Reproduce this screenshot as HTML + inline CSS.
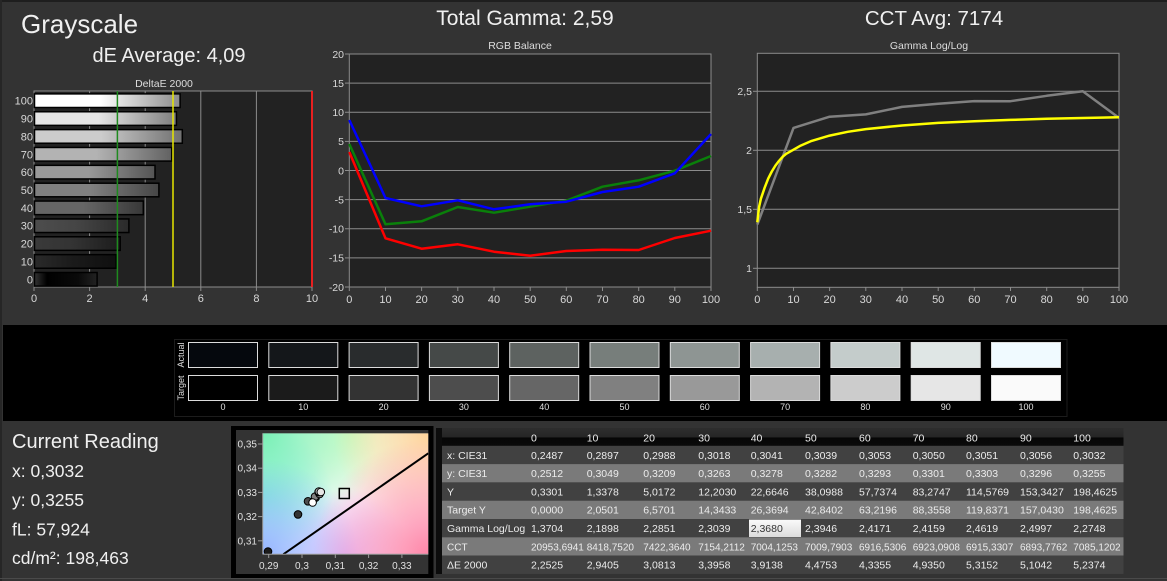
<!DOCTYPE html>
<html><head><meta charset="utf-8">
<style>
html,body{margin:0;padding:0;background:#333;width:1167px;height:581px;overflow:hidden;}
svg{display:block;font-family:"Liberation Sans",sans-serif;}
</style></head><body>
<svg width="1167" height="581" viewBox="0 0 1167 581" xmlns="http://www.w3.org/2000/svg">
<defs>
  <linearGradient id="b0" x1="0" y1="0" x2="1" y2="0"><stop offset="0" stop-color="#fff"/><stop offset="0.45" stop-color="#fff"/><stop offset="1" stop-color="#8c8c8c"/></linearGradient>
  <linearGradient id="b1" x1="0" y1="0" x2="1" y2="0"><stop offset="0" stop-color="#e6e6e6"/><stop offset="0.45" stop-color="#e6e6e6"/><stop offset="1" stop-color="#7e7e7e"/></linearGradient>
  <linearGradient id="b2" x1="0" y1="0" x2="1" y2="0"><stop offset="0" stop-color="#cccccc"/><stop offset="0.45" stop-color="#cccccc"/><stop offset="1" stop-color="#707070"/></linearGradient>
  <linearGradient id="b3" x1="0" y1="0" x2="1" y2="0"><stop offset="0" stop-color="#b3b3b3"/><stop offset="0.45" stop-color="#b3b3b3"/><stop offset="1" stop-color="#626262"/></linearGradient>
  <linearGradient id="b4" x1="0" y1="0" x2="1" y2="0"><stop offset="0" stop-color="#999"/><stop offset="0.45" stop-color="#999"/><stop offset="1" stop-color="#545454"/></linearGradient>
  <linearGradient id="b5" x1="0" y1="0" x2="1" y2="0"><stop offset="0" stop-color="#808080"/><stop offset="0.45" stop-color="#808080"/><stop offset="1" stop-color="#464646"/></linearGradient>
  <linearGradient id="b6" x1="0" y1="0" x2="1" y2="0"><stop offset="0" stop-color="#666"/><stop offset="0.45" stop-color="#666"/><stop offset="1" stop-color="#383838"/></linearGradient>
  <linearGradient id="b7" x1="0" y1="0" x2="1" y2="0"><stop offset="0" stop-color="#4d4d4d"/><stop offset="0.45" stop-color="#454545"/><stop offset="1" stop-color="#2a2a2a"/></linearGradient>
  <linearGradient id="b8" x1="0" y1="0" x2="1" y2="0"><stop offset="0" stop-color="#3a3a3a"/><stop offset="0.45" stop-color="#333"/><stop offset="1" stop-color="#1c1c1c"/></linearGradient>
  <linearGradient id="b9" x1="0" y1="0" x2="1" y2="0"><stop offset="0" stop-color="#2a2a2a"/><stop offset="0.45" stop-color="#1b1b1b"/><stop offset="1" stop-color="#0f0f0f"/></linearGradient>
  <linearGradient id="b10" x1="0" y1="0" x2="1" y2="0"><stop offset="0" stop-color="#333"/><stop offset="0.2" stop-color="#000"/><stop offset="0.7" stop-color="#0a0a0a"/><stop offset="1" stop-color="#222"/></linearGradient>
  <linearGradient id="hdr" x1="0" y1="0" x2="0" y2="1"><stop offset="0" stop-color="#2e2e2e"/><stop offset="0.5" stop-color="#262626"/><stop offset="0.55" stop-color="#060606"/><stop offset="1" stop-color="#0a0a0a"/></linearGradient>
  <linearGradient id="hl" x1="0" y1="0" x2="0" y2="1"><stop offset="0" stop-color="#fafafa"/><stop offset="1" stop-color="#dcdcdc"/></linearGradient>
  <radialGradient id="gTL" cx="262.7" cy="433.3" r="115" gradientUnits="userSpaceOnUse"><stop offset="0" stop-color="#78f0b4" stop-opacity="1"/><stop offset="1" stop-color="#78f0b4" stop-opacity="0"/></radialGradient>
  <radialGradient id="gTM" cx="350" cy="433.3" r="70" gradientUnits="userSpaceOnUse"><stop offset="0" stop-color="#d8ffc0" stop-opacity="0.9"/><stop offset="1" stop-color="#d8ffc0" stop-opacity="0"/></radialGradient>
  <radialGradient id="gTR" cx="428.3" cy="433.3" r="95" gradientUnits="userSpaceOnUse"><stop offset="0" stop-color="#ffd49a" stop-opacity="1"/><stop offset="1" stop-color="#ffd49a" stop-opacity="0"/></radialGradient>
  <radialGradient id="gLM" cx="262.7" cy="495" r="70" gradientUnits="userSpaceOnUse"><stop offset="0" stop-color="#86f0f0" stop-opacity="1"/><stop offset="1" stop-color="#86f0f0" stop-opacity="0"/></radialGradient>
  <radialGradient id="gBL" cx="262.7" cy="554.3" r="95" gradientUnits="userSpaceOnUse"><stop offset="0" stop-color="#96b4ff" stop-opacity="1"/><stop offset="1" stop-color="#96b4ff" stop-opacity="0"/></radialGradient>
  <radialGradient id="gBM" cx="345" cy="554.3" r="65" gradientUnits="userSpaceOnUse"><stop offset="0" stop-color="#e2b8ff" stop-opacity="0.9"/><stop offset="1" stop-color="#e2b8ff" stop-opacity="0"/></radialGradient>
  <radialGradient id="gBR" cx="428.3" cy="554.3" r="115" gradientUnits="userSpaceOnUse"><stop offset="0" stop-color="#ff86a8" stop-opacity="1"/><stop offset="1" stop-color="#ff86a8" stop-opacity="0"/></radialGradient>
  <clipPath id="cie"><rect x="262.7" y="433.3" width="165.6" height="121"/></clipPath>
</defs>

<rect width="1167" height="581" fill="#333"/>
<rect x="0" y="0" width="1167" height="2" fill="#1e1e1e"/>
<rect x="0" y="0" width="2" height="581" fill="#262626"/>

<!-- Titles -->
<text x="21" y="33" font-size="26" fill="#f0f0f0">Grayscale</text>
<text x="169" y="62" font-size="20" fill="#f0f0f0" text-anchor="middle">dE Average: 4,09</text>
<text x="525" y="25" font-size="21" fill="#f0f0f0" text-anchor="middle">Total Gamma: 2,59</text>
<text x="934" y="25" font-size="20.5" fill="#f0f0f0" text-anchor="middle">CCT Avg: 7174</text>

<!-- DeltaE chart -->
<text x="164" y="87" font-size="10.5" fill="#ddd" text-anchor="middle">DeltaE 2000</text>
<rect x="34" y="91" width="278" height="196" fill="#222" stroke="#8c8c8c" stroke-width="1"/>
<g stroke="#8c8c8c" stroke-width="1">
  <line x1="89.6" y1="91" x2="89.6" y2="287"/>
  <line x1="145.2" y1="91" x2="145.2" y2="287"/>
  <line x1="200.8" y1="91" x2="200.8" y2="287"/>
  <line x1="256.4" y1="91" x2="256.4" y2="287"/>
  <line x1="34" y1="287" x2="34" y2="291"/>
  <line x1="89.6" y1="287" x2="89.6" y2="291"/>
  <line x1="145.2" y1="287" x2="145.2" y2="291"/>
  <line x1="200.8" y1="287" x2="200.8" y2="291"/>
  <line x1="256.4" y1="287" x2="256.4" y2="291"/>
  <line x1="312" y1="287" x2="312" y2="291"/>
</g>
<g stroke="#000" stroke-width="1.5">
  <rect x="34.5" y="93.9" width="145.6" height="13.6" fill="url(#b0)"/>
  <rect x="34.5" y="111.76" width="141.9" height="13.6" fill="url(#b1)"/>
  <rect x="34.5" y="129.62" width="147.8" height="13.6" fill="url(#b2)"/>
  <rect x="34.5" y="147.48" width="137.2" height="13.6" fill="url(#b3)"/>
  <rect x="34.5" y="165.34" width="120.5" height="13.6" fill="url(#b4)"/>
  <rect x="34.5" y="183.2" width="124.4" height="13.6" fill="url(#b5)"/>
  <rect x="34.5" y="201.06" width="108.8" height="13.6" fill="url(#b6)"/>
  <rect x="34.5" y="218.92" width="94.4" height="13.6" fill="url(#b7)"/>
  <rect x="34.5" y="236.78" width="85.7" height="13.6" fill="url(#b8)"/>
  <rect x="34.5" y="254.64" width="81.7" height="13.6" fill="url(#b9)"/>
  <rect x="34.5" y="272.5" width="62.6" height="13.6" fill="url(#b10)"/>
</g>
<line x1="117.4" y1="91" x2="117.4" y2="287" stroke="#1f8a1f" stroke-width="1.5"/>
<line x1="173" y1="91" x2="173" y2="287" stroke="#e6e600" stroke-width="1.5"/>
<line x1="312" y1="91" x2="312" y2="287" stroke="#e82020" stroke-width="2"/>
<g font-size="11" fill="#d8d8d8" text-anchor="end">
  <text x="33" y="104.7">100</text>
  <text x="33" y="122.6">90</text>
  <text x="33" y="140.4">80</text>
  <text x="33" y="158.3">70</text>
  <text x="33" y="176.1">60</text>
  <text x="33" y="194">50</text>
  <text x="33" y="211.9">40</text>
  <text x="33" y="229.7">30</text>
  <text x="33" y="247.6">20</text>
  <text x="33" y="265.4">10</text>
  <text x="33" y="283.3">0</text>
</g>
<g font-size="11" fill="#d8d8d8" text-anchor="middle">
  <text x="34" y="302">0</text>
  <text x="89.6" y="302">2</text>
  <text x="145.2" y="302">4</text>
  <text x="200.8" y="302">6</text>
  <text x="256.4" y="302">8</text>
  <text x="312" y="302">10</text>
</g>

<!-- RGB Balance -->
<text x="520" y="49" font-size="10.5" fill="#ddd" text-anchor="middle">RGB Balance</text>
<rect x="349.3" y="54" width="361.7" height="233" fill="#222" stroke="#8c8c8c" stroke-width="1"/>
<g stroke="#8c8c8c" stroke-width="1">
  <line x1="349.3" y1="83.1" x2="711" y2="83.1"/>
  <line x1="349.3" y1="112.25" x2="711" y2="112.25"/>
  <line x1="349.3" y1="141.4" x2="711" y2="141.4"/>
  <line x1="349.3" y1="170.5" x2="711" y2="170.5"/>
  <line x1="349.3" y1="199.6" x2="711" y2="199.6"/>
  <line x1="349.3" y1="228.75" x2="711" y2="228.75"/>
  <line x1="349.3" y1="257.9" x2="711" y2="257.9"/>
  <line x1="345" y1="54" x2="349.3" y2="54"/>
  <line x1="345" y1="83.1" x2="349.3" y2="83.1"/>
  <line x1="345" y1="112.25" x2="349.3" y2="112.25"/>
  <line x1="345" y1="141.4" x2="349.3" y2="141.4"/>
  <line x1="345" y1="170.5" x2="349.3" y2="170.5"/>
  <line x1="345" y1="199.6" x2="349.3" y2="199.6"/>
  <line x1="345" y1="228.75" x2="349.3" y2="228.75"/>
  <line x1="345" y1="257.9" x2="349.3" y2="257.9"/>
  <line x1="345" y1="287" x2="349.3" y2="287"/>
  <line x1="349.3" y1="287" x2="349.3" y2="291"/>
  <line x1="385.5" y1="287" x2="385.5" y2="291"/>
  <line x1="421.6" y1="287" x2="421.6" y2="291"/>
  <line x1="457.8" y1="287" x2="457.8" y2="291"/>
  <line x1="494" y1="287" x2="494" y2="291"/>
  <line x1="530.2" y1="287" x2="530.2" y2="291"/>
  <line x1="566.3" y1="287" x2="566.3" y2="291"/>
  <line x1="602.5" y1="287" x2="602.5" y2="291"/>
  <line x1="638.7" y1="287" x2="638.7" y2="291"/>
  <line x1="674.8" y1="287" x2="674.8" y2="291"/>
  <line x1="711" y1="287" x2="711" y2="291"/>
</g>
<g font-size="10.5" fill="#d8d8d8" text-anchor="end">
  <text x="344" y="57.8">20</text>
  <text x="344" y="86.9">15</text>
  <text x="344" y="116">10</text>
  <text x="344" y="145.2">5</text>
  <text x="344" y="174.3">0</text>
  <text x="344" y="203.4">-5</text>
  <text x="344" y="232.5">-10</text>
  <text x="344" y="261.7">-15</text>
  <text x="344" y="290.8">-20</text>
</g>
<g font-size="11" fill="#d8d8d8" text-anchor="middle">
  <text x="349.3" y="303">0</text>
  <text x="385.5" y="303">10</text>
  <text x="421.6" y="303">20</text>
  <text x="457.8" y="303">30</text>
  <text x="494" y="303">40</text>
  <text x="530.2" y="303">50</text>
  <text x="566.3" y="303">60</text>
  <text x="602.5" y="303">70</text>
  <text x="638.7" y="303">80</text>
  <text x="674.8" y="303">90</text>
  <text x="711" y="303">100</text>
</g>
<g fill="none" stroke-width="2.5" stroke-linejoin="round">
  <polyline stroke="#ff0000" points="349.3,152 385.5,238.3 421.6,248.7 457.8,244.3 494,251.7 530.2,255.7 566.3,251 602.5,249.7 638.7,250 674.8,238 711,230.7"/>
  <polyline stroke="#0a800a" points="349.3,144 385.5,224.3 421.6,221.3 457.8,207 494,212.7 530.2,206.7 566.3,200.7 602.5,186.7 638.7,180.3 674.8,170.7 711,156"/>
  <polyline stroke="#0000ff" points="349.3,120 385.5,198 421.6,206.3 457.8,200.3 494,209.3 530.2,204.3 566.3,201.7 602.5,192 638.7,186.7 674.8,173.3 711,134"/>
</g>

<!-- Gamma Log/Log -->
<text x="929" y="49" font-size="10.5" fill="#ddd" text-anchor="middle">Gamma Log/Log</text>
<rect x="757.3" y="53.3" width="361.7" height="234" fill="#222" stroke="#8c8c8c" stroke-width="1"/>
<g stroke="#8c8c8c" stroke-width="1">
  <line x1="757.3" y1="91.3" x2="1119" y2="91.3"/>
  <line x1="757.3" y1="150.3" x2="1119" y2="150.3"/>
  <line x1="757.3" y1="209.3" x2="1119" y2="209.3"/>
  <line x1="757.3" y1="268.3" x2="1119" y2="268.3"/>
  <line x1="753" y1="91.3" x2="757.3" y2="91.3"/>
  <line x1="753" y1="150.3" x2="757.3" y2="150.3"/>
  <line x1="753" y1="209.3" x2="757.3" y2="209.3"/>
  <line x1="753" y1="268.3" x2="757.3" y2="268.3"/>
  <line x1="757.3" y1="287.3" x2="757.3" y2="291"/>
  <line x1="793.5" y1="287.3" x2="793.5" y2="291"/>
  <line x1="829.6" y1="287.3" x2="829.6" y2="291"/>
  <line x1="865.8" y1="287.3" x2="865.8" y2="291"/>
  <line x1="902" y1="287.3" x2="902" y2="291"/>
  <line x1="938.2" y1="287.3" x2="938.2" y2="291"/>
  <line x1="974.3" y1="287.3" x2="974.3" y2="291"/>
  <line x1="1010.5" y1="287.3" x2="1010.5" y2="291"/>
  <line x1="1046.7" y1="287.3" x2="1046.7" y2="291"/>
  <line x1="1082.8" y1="287.3" x2="1082.8" y2="291"/>
  <line x1="1119" y1="287.3" x2="1119" y2="291"/>
</g>
<g font-size="10.5" fill="#d8d8d8" text-anchor="end">
  <text x="752" y="95.1">2,5</text>
  <text x="752" y="154.1">2</text>
  <text x="752" y="213.1">1,5</text>
  <text x="752" y="272.1">1</text>
</g>
<g font-size="11" fill="#d8d8d8" text-anchor="middle">
  <text x="757.3" y="303">0</text>
  <text x="793.5" y="303">10</text>
  <text x="829.6" y="303">20</text>
  <text x="865.8" y="303">30</text>
  <text x="902" y="303">40</text>
  <text x="938.2" y="303">50</text>
  <text x="974.3" y="303">60</text>
  <text x="1010.5" y="303">70</text>
  <text x="1046.7" y="303">80</text>
  <text x="1082.8" y="303">90</text>
  <text x="1119" y="303">100</text>
</g>
<g fill="none" stroke-width="2.5" stroke-linejoin="round">
  <polyline stroke="#808080" points="757.3,224.6 793.5,127.9 829.6,116.7 865.8,114.4 902,106.9 938.2,103.7 974.3,101.1 1010.5,101.2 1046.7,95.8 1082.8,91.3 1119,117.9"/>
  <polyline stroke="#ffff00" points="757.3,222.3 759.1,206.9 760.9,198.7 764.5,188.1 768.2,178.6 771.8,171.5 775.4,165.6 779,160.9 782.6,156.8 786.2,153.8 793.5,149.7 800.7,145.6 811.6,140.9 829.6,135.6 847.7,131.8 865.8,129.1 902,125.5 938.2,122.9 974.3,121.2 1010.5,119.9 1046.7,118.8 1082.8,118 1119,117.3"/>
</g>

<!-- Swatch band -->
<rect x="3" y="325" width="1164" height="96" fill="#000"/>
<rect x="174.5" y="339.5" width="892.5" height="77" fill="none" stroke="#1c1c1c" stroke-width="1"/>
<text transform="translate(184,355) rotate(-90)" font-size="9" fill="#ddd" text-anchor="middle">Actual</text>
<text transform="translate(184,388) rotate(-90)" font-size="9" fill="#ddd" text-anchor="middle">Target</text>
<g stroke="#dcdcdc" stroke-width="1">
  <rect x="188.5" y="342.5" width="69" height="25" fill="#05080d"/>
  <rect x="268.8" y="342.5" width="69" height="25" fill="#14171a"/>
  <rect x="349.1" y="342.5" width="69" height="25" fill="#292c2d"/>
  <rect x="429.4" y="342.5" width="69" height="25" fill="#454948"/>
  <rect x="509.7" y="342.5" width="69" height="25" fill="#5d6260"/>
  <rect x="590" y="342.5" width="69" height="25" fill="#777e7b"/>
  <rect x="670.3" y="342.5" width="69" height="25" fill="#8e9593"/>
  <rect x="750.6" y="342.5" width="69" height="25" fill="#a7afae"/>
  <rect x="830.9" y="342.5" width="69" height="25" fill="#c4cccb"/>
  <rect x="911.2" y="342.5" width="69" height="25" fill="#dfe6e5"/>
  <rect x="991.5" y="342.5" width="69" height="25" fill="#f0faff"/>
  <rect x="188.5" y="375.5" width="69" height="25" fill="#000"/>
  <rect x="268.8" y="375.5" width="69" height="25" fill="#1b1b1b"/>
  <rect x="349.1" y="375.5" width="69" height="25" fill="#333"/>
  <rect x="429.4" y="375.5" width="69" height="25" fill="#4d4d4d"/>
  <rect x="509.7" y="375.5" width="69" height="25" fill="#666"/>
  <rect x="590" y="375.5" width="69" height="25" fill="#808080"/>
  <rect x="670.3" y="375.5" width="69" height="25" fill="#999"/>
  <rect x="750.6" y="375.5" width="69" height="25" fill="#b3b3b3"/>
  <rect x="830.9" y="375.5" width="69" height="25" fill="#ccc"/>
  <rect x="911.2" y="375.5" width="69" height="25" fill="#e6e6e6"/>
  <rect x="991.5" y="375.5" width="69" height="25" fill="#fafafa"/>
</g>
<g font-size="9" fill="#e0e0e0" text-anchor="middle">
  <text x="223" y="410">0</text>
  <text x="303.3" y="410">10</text>
  <text x="383.6" y="410">20</text>
  <text x="463.9" y="410">30</text>
  <text x="544.2" y="410">40</text>
  <text x="624.5" y="410">50</text>
  <text x="704.8" y="410">60</text>
  <text x="785.1" y="410">70</text>
  <text x="865.4" y="410">80</text>
  <text x="945.7" y="410">90</text>
  <text x="1026" y="410">100</text>
</g>

<!-- Current reading -->
<text x="12" y="448" font-size="20" fill="#f0f0f0">Current Reading</text>
<g font-size="17.5" fill="#f0f0f0">
  <text x="12" y="477">x: 0,3032</text>
  <text x="12" y="506">y: 0,3255</text>
  <text x="12" y="535.5">fL: 57,924</text>
  <text x="12" y="564">cd/m²: 198,463</text>
</g>

<!-- CIE plot -->
<rect x="231" y="426" width="202.5" height="152" fill="#000"/>
<rect x="236" y="430" width="192.3" height="144" fill="#333"/>
<g clip-path="url(#cie)">
  <rect x="262.7" y="433.3" width="165.6" height="121" fill="#fbfbff"/>
  <rect x="262.7" y="433.3" width="165.6" height="121" fill="url(#gTM)"/>
  <rect x="262.7" y="433.3" width="165.6" height="121" fill="url(#gBM)"/>
  <rect x="262.7" y="433.3" width="165.6" height="121" fill="url(#gLM)"/>
  <rect x="262.7" y="433.3" width="165.6" height="121" fill="url(#gTL)"/>
  <rect x="262.7" y="433.3" width="165.6" height="121" fill="url(#gTR)"/>
  <rect x="262.7" y="433.3" width="165.6" height="121" fill="url(#gBL)"/>
  <rect x="262.7" y="433.3" width="165.6" height="121" fill="url(#gBR)"/>
  <line x1="283.3" y1="554.3" x2="428.3" y2="453.3" stroke="#000" stroke-width="2"/>
  <g stroke="#000" stroke-width="1">
    <circle cx="268" cy="551.5" r="3.8" fill="#1b1b1b"/>
    <circle cx="298" cy="514.4" r="3.8" fill="#333"/>
    <circle cx="308" cy="501.3" r="3.8" fill="#4d4d4d"/>
    <circle cx="315.6" cy="497.7" r="3.8" fill="#666"/>
    <circle cx="315" cy="496.7" r="3.8" fill="#808080"/>
    <circle cx="319.6" cy="494" r="3.8" fill="#999"/>
    <circle cx="318.6" cy="492.1" r="3.8" fill="#b3b3b3"/>
    <circle cx="318.9" cy="491.6" r="3.8" fill="#ccc"/>
    <circle cx="320.8" cy="492" r="3.8" fill="#e6e6e6"/>
    <circle cx="312.6" cy="502.5" r="3.8" fill="#fff"/>
  </g>
  <rect x="339.3" y="488.5" width="10" height="10" fill="none" stroke="#000" stroke-width="1.5"/>
</g>
<g stroke="#9a9a9a" stroke-width="1">
  <line x1="262.7" y1="433.3" x2="262.7" y2="554.3"/>
  <line x1="262.7" y1="554.3" x2="428.3" y2="554.3"/>
  <line x1="258" y1="444" x2="262.7" y2="444"/>
  <line x1="258" y1="468.2" x2="262.7" y2="468.2"/>
  <line x1="258" y1="492.4" x2="262.7" y2="492.4"/>
  <line x1="258" y1="516.6" x2="262.7" y2="516.6"/>
  <line x1="258" y1="540.8" x2="262.7" y2="540.8"/>
  <line x1="268.7" y1="554.3" x2="268.7" y2="558"/>
  <line x1="302" y1="554.3" x2="302" y2="558"/>
  <line x1="335.3" y1="554.3" x2="335.3" y2="558"/>
  <line x1="368.6" y1="554.3" x2="368.6" y2="558"/>
  <line x1="401.9" y1="554.3" x2="401.9" y2="558"/>
</g>
<g font-size="10" fill="#e0e0e0" text-anchor="end">
  <text x="257" y="447.5">0,35</text>
  <text x="257" y="471.7">0,34</text>
  <text x="257" y="495.9">0,33</text>
  <text x="257" y="520.1">0,32</text>
  <text x="257" y="544.3">0,31</text>
</g>
<g font-size="10" fill="#e0e0e0" text-anchor="middle">
  <text x="268.7" y="569">0,29</text>
  <text x="302" y="569">0,3</text>
  <text x="335.3" y="569">0,31</text>
  <text x="368.6" y="569">0,32</text>
  <text x="401.9" y="569">0,33</text>
</g>

<!-- Table -->
<rect x="436" y="428" width="6" height="146" fill="#0c0c0c"/>
<rect x="442" y="428" width="681.5" height="18" fill="url(#hdr)"/>
<rect x="442" y="445.8" width="681.5" height="18.3" fill="#414141"/>
<rect x="442" y="464.1" width="681.5" height="18.3" fill="#7a7a7a"/>
<rect x="442" y="482.4" width="681.5" height="18.3" fill="#414141"/>
<rect x="442" y="500.7" width="681.5" height="18.3" fill="#7a7a7a"/>
<rect x="442" y="519" width="681.5" height="18.3" fill="#414141"/>
<rect x="442" y="537.3" width="681.5" height="18.3" fill="#7a7a7a"/>
<rect x="442" y="555.6" width="681.5" height="18.3" fill="#414141"/>
<rect x="749" y="519.6" width="52" height="17.4" fill="url(#hl)"/>
<g font-size="10.5" fill="#ececec">
  <text x="531" y="441.5">0</text><text x="586.7" y="441.5">10</text><text x="643.3" y="441.5">20</text><text x="698.3" y="441.5">30</text><text x="750.7" y="441.5">40</text><text x="805" y="441.5">50</text><text x="859" y="441.5">60</text><text x="912.7" y="441.5">70</text><text x="966" y="441.5">80</text><text x="1020" y="441.5">90</text><text x="1073.3" y="441.5">100</text>

  <text x="447" y="458.8">x: CIE31</text><text x="531" y="458.8">0,2487</text><text x="586.7" y="458.8">0,2897</text><text x="643.3" y="458.8">0,2988</text><text x="698.3" y="458.8">0,3018</text><text x="750.7" y="458.8">0,3041</text><text x="805" y="458.8">0,3039</text><text x="859" y="458.8">0,3053</text><text x="912.7" y="458.8">0,3050</text><text x="966" y="458.8">0,3051</text><text x="1020" y="458.8">0,3056</text><text x="1073.3" y="458.8">0,3032</text>

  <text x="447" y="477.1">y: CIE31</text><text x="531" y="477.1">0,2512</text><text x="586.7" y="477.1">0,3049</text><text x="643.3" y="477.1">0,3209</text><text x="698.3" y="477.1">0,3263</text><text x="750.7" y="477.1">0,3278</text><text x="805" y="477.1">0,3282</text><text x="859" y="477.1">0,3293</text><text x="912.7" y="477.1">0,3301</text><text x="966" y="477.1">0,3303</text><text x="1020" y="477.1">0,3296</text><text x="1073.3" y="477.1">0,3255</text>

  <text x="447" y="495.4">Y</text><text x="531" y="495.4">0,3301</text><text x="586.7" y="495.4">1,3378</text><text x="643.3" y="495.4">5,0172</text><text x="698.3" y="495.4">12,2030</text><text x="750.7" y="495.4">22,6646</text><text x="805" y="495.4">38,0988</text><text x="859" y="495.4">57,7374</text><text x="912.7" y="495.4">83,2747</text><text x="966" y="495.4">114,5769</text><text x="1020" y="495.4">153,3427</text><text x="1073.3" y="495.4">198,4625</text>

  <text x="447" y="513.7">Target Y</text><text x="531" y="513.7">0,0000</text><text x="586.7" y="513.7">2,0501</text><text x="643.3" y="513.7">6,5701</text><text x="698.3" y="513.7">14,3433</text><text x="750.7" y="513.7">26,3694</text><text x="805" y="513.7">42,8402</text><text x="859" y="513.7">63,2196</text><text x="912.7" y="513.7">88,3558</text><text x="966" y="513.7">119,8371</text><text x="1020" y="513.7">157,0430</text><text x="1073.3" y="513.7">198,4625</text>

  <text x="447" y="532">Gamma Log/Log</text><text x="531" y="532">1,3704</text><text x="586.7" y="532">2,1898</text><text x="643.3" y="532">2,2851</text><text x="698.3" y="532">2,3039</text><text x="750.7" y="532" fill="#333">2,3680</text><text x="805" y="532">2,3946</text><text x="859" y="532">2,4171</text><text x="912.7" y="532">2,4159</text><text x="966" y="532">2,4619</text><text x="1020" y="532">2,4997</text><text x="1073.3" y="532">2,2748</text>

  <text x="447" y="568.6">ΔE 2000</text><text x="531" y="568.6">2,2525</text><text x="586.7" y="568.6">2,9405</text><text x="643.3" y="568.6">3,0813</text><text x="698.3" y="568.6">3,3958</text><text x="750.7" y="568.6">3,9138</text><text x="805" y="568.6">4,4753</text><text x="859" y="568.6">4,3355</text><text x="912.7" y="568.6">4,9350</text><text x="966" y="568.6">5,3152</text><text x="1020" y="568.6">5,1042</text><text x="1073.3" y="568.6">5,2374</text>
</g>
<g font-size="10" fill="#ececec">
  <text x="447" y="550.3">CCT</text><text x="531" y="550.3">20953,6941</text><text x="586.7" y="550.3">8418,7520</text><text x="643.3" y="550.3">7422,3640</text><text x="698.3" y="550.3">7154,2112</text><text x="750.7" y="550.3">7004,1253</text><text x="805" y="550.3">7009,7903</text><text x="859" y="550.3">6916,5306</text><text x="912.7" y="550.3">6923,0908</text><text x="966" y="550.3">6915,3307</text><text x="1020" y="550.3">6893,7762</text><text x="1073.3" y="550.3">7085,1202</text>
</g>
<rect x="0" y="578" width="1167" height="1" fill="#4a4a4a"/>
</svg>
</body></html>
